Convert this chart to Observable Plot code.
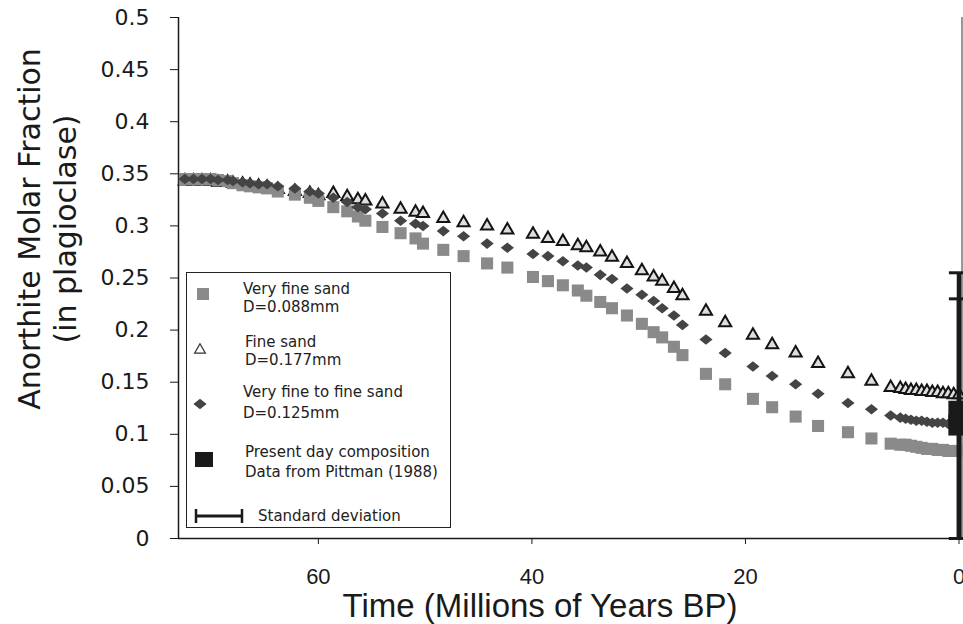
<!DOCTYPE html>
<html>
<head>
<meta charset="utf-8">
<script src="https://cdn.jsdelivr.net/npm/d3@7"></script>
<script src="https://cdn.jsdelivr.net/npm/@observablehq/plot@0.6"></script>
<style>
  body { margin: 0; background: #fff; }
  #chart { position: relative; width: 963px; height: 624px; overflow: hidden; background: #fff; }
</style>
</head>
<body>
<div id="chart"></div>
<script>
// Model time steps (millions of years before present)
const timeMa = [
  72.5, 71.7, 70.9, 70.1, 69.4, 68.5, 68.0, 67.1, 66.4, 65.6, 64.8, 63.8, 62.2,
  60.8, 60.0, 58.6, 57.3, 56.3, 55.6, 54.0, 52.3, 50.9, 50.2, 48.3, 46.4, 44.2,
  42.3, 39.9, 38.5, 37.1, 35.7, 34.9, 33.6, 32.5, 31.1, 29.7, 28.6, 27.8, 26.7,
  25.9, 23.7, 21.9, 19.3, 17.5, 15.3, 13.2, 10.4, 8.2, 6.4,
  5.5, 5.0, 4.5, 4.0, 3.5, 3.0, 2.5, 2.0, 1.5, 1.0, 0.5, 0.0
];

// Very fine sand, D = 0.088 mm
const veryFineSand = [
  0.345, 0.345, 0.345, 0.345, 0.344, 0.343, 0.341, 0.339, 0.338, 0.337, 0.336, 0.333, 0.330,
  0.327, 0.324, 0.318, 0.314, 0.309, 0.305, 0.299, 0.293, 0.288, 0.283, 0.277, 0.271, 0.264,
  0.260, 0.251, 0.247, 0.243, 0.238, 0.233, 0.227, 0.221, 0.214, 0.206, 0.198, 0.193, 0.184,
  0.176, 0.158, 0.148, 0.134, 0.126, 0.117, 0.108, 0.102, 0.096, 0.091,
  0.090, 0.090, 0.089, 0.088, 0.087, 0.086, 0.086, 0.085, 0.085, 0.084, 0.084, 0.084
];

// Fine sand, D = 0.177 mm
const fineSand = [
  0.343, 0.343, 0.343, 0.343, 0.342, 0.342, 0.341, 0.340, 0.339, 0.338, 0.337, 0.335, 0.333,
  0.331, 0.329, 0.331, 0.328, 0.325, 0.324, 0.321, 0.316, 0.313, 0.312, 0.307, 0.303, 0.300,
  0.296, 0.292, 0.288, 0.285, 0.281, 0.279, 0.275, 0.270, 0.264, 0.257, 0.251, 0.247, 0.240,
  0.233, 0.218, 0.207, 0.195, 0.186, 0.178, 0.168, 0.158, 0.151, 0.145,
  0.144, 0.143, 0.142, 0.142, 0.141, 0.141, 0.140, 0.140, 0.139, 0.139, 0.138, 0.138
];

// Very fine to fine sand, D = 0.125 mm
const veryFineToFineSand = [
  0.345, 0.345, 0.345, 0.345, 0.344, 0.344, 0.343, 0.342, 0.341, 0.340, 0.340, 0.338, 0.336,
  0.333, 0.331, 0.327, 0.323, 0.318, 0.316, 0.312, 0.305, 0.302, 0.300, 0.295, 0.290, 0.283,
  0.279, 0.273, 0.271, 0.266, 0.262, 0.260, 0.253, 0.249, 0.240, 0.234, 0.228, 0.221, 0.214,
  0.205, 0.191, 0.178, 0.165, 0.156, 0.148, 0.139, 0.130, 0.124, 0.118,
  0.116, 0.115, 0.114, 0.113, 0.113, 0.112, 0.111, 0.111, 0.111, 0.110, 0.110, 0.110
];

// Present-day composition (Pittman, 1988) with standard deviations
const presentTime = [0, 0];
const presentAn = [0.122, 0.109];
const presentSD = [0.133, 0.121];

const yTicks = [0, 0.05, 0.1, 0.15, 0.2, 0.25, 0.3, 0.35, 0.4, 0.45, 0.5];
const xTicks = [60, 40, 20, 0];

const series = (values) => timeMa.map((t, i) => ({ t, an: values[i] }));
const present = presentTime.map((t, i) => ({
  t, an: presentAn[i],
  lo: Math.max(0, presentAn[i] - presentSD[i]),
  hi: presentAn[i] + presentSD[i]
}));

// Diamond a little wider than tall
const wideDiamond = {
  draw(ctx, size) {
    const a = Math.sqrt(size / 1.6), b = 0.8 * a;
    ctx.moveTo(0, -b); ctx.lineTo(a, 0); ctx.lineTo(0, b); ctx.lineTo(-a, 0); ctx.closePath();
  }
};

const sansY = "'DejaVu Sans', Verdana, sans-serif";
const sansX = "'Liberation Sans', Arial, sans-serif";
const xMax = 73.1;
const capHalf = 0.9;

const chart = Plot.plot({
  width: 963,
  height: 624,
  marginLeft: 178,
  marginRight: 4.5,
  marginTop: 17,
  marginBottom: 86,
  style: { background: "white", color: "#1a1a1a" },
  x: { domain: [xMax, 0] },
  y: { domain: [0, 0.5] },
  marks: [
    Plot.axisY({
      ticks: yTicks, tickSize: 8, tickPadding: 21, tickFormat: d => String(d),
      label: null, fontSize: 22, fontFamily: sansY, stroke: "#1a1a1a"
    }),
    Plot.axisX({
      ticks: xTicks, tickSize: 6, tickPadding: 24, tickFormat: d => String(d),
      label: null, fontSize: 22, fontFamily: sansX, stroke: "#1a1a1a"
    }),
    Plot.ruleX([0], { dx: 3, stroke: "#333", strokeWidth: 1 }),
    Plot.ruleX([xMax], { stroke: "#1a1a1a", strokeWidth: 1.5 }),
    Plot.ruleY([0], { stroke: "#1a1a1a", strokeWidth: 1.5 }),
    // drawn bottom-up: fine sand, very fine sand, very fine to fine sand
    Plot.dot(series(fineSand), {
      x: "t", y: "an", symbol: "triangle", r: 4.5, fill: "#dedede", stroke: "#141414", strokeWidth: 2
    }),
    Plot.dot(series(veryFineSand), {
      x: "t", y: "an", symbol: "square", r: 6.8, fill: "#8a8a8a"
    }),
    Plot.dot(series(veryFineToFineSand), {
      x: "t", y: "an", symbol: wideDiamond, r: 4.7, fill: "#444"
    }),
    Plot.ruleX(present, { x: "t", y1: "lo", y2: "hi", stroke: "#1a1a1a", strokeWidth: 4.5 }),
    Plot.ruleY(present, { y: "hi", x1: d => d.t + capHalf, x2: d => d.t - capHalf, stroke: "#1a1a1a", strokeWidth: 3 }),
    Plot.ruleY(present, { y: "lo", x1: d => d.t + capHalf, x2: d => d.t - capHalf, stroke: "#1a1a1a", strokeWidth: 3 }),
    Plot.dot(present, { x: "t", y: "an", symbol: "square", r: 12, fill: "#1a1a1a" })
  ]
});

document.getElementById("chart").appendChild(chart);

// Axis titles and legend
const svg = d3.select(chart);

svg.append("text")
  .attr("transform", "translate(40,229) rotate(-90)")
  .attr("text-anchor", "middle")
  .attr("font-family", sansY).attr("font-size", 30).attr("fill", "#1a1a1a")
  .text("Anorthite Molar Fraction");
svg.append("text")
  .attr("transform", "translate(76,229) rotate(-90)")
  .attr("text-anchor", "middle")
  .attr("font-family", sansY).attr("font-size", 30).attr("fill", "#1a1a1a")
  .text("(in plagioclase)");
svg.append("text")
  .attr("x", 540).attr("y", 617)
  .attr("text-anchor", "middle")
  .attr("font-family", sansX).attr("font-size", 33).attr("fill", "#1a1a1a")
  .text("Time (Millions of Years BP)");

const lg = svg.append("g")
  .attr("font-family", sansY).attr("font-size", 15).attr("fill", "#222")
  .attr("text-anchor", "start");
lg.append("rect")
  .attr("x", 186.5).attr("y", 272.5).attr("width", 264).attr("height", 255)
  .attr("fill", "white").attr("stroke", "#222").attr("stroke-width", 1);

const sym = (type, size) => d3.symbol().type(type).size(size)();
lg.append("path").attr("d", sym(d3.symbolSquare, 144)).attr("transform", "translate(203,294)").attr("fill", "#8a8a8a");
lg.append("path").attr("d", sym(d3.symbolTriangle, 50)).attr("transform", "translate(200,350)").attr("fill", "white").attr("stroke", "#333").attr("stroke-width", 1.2);
lg.append("path").attr("d", sym(wideDiamond, 70)).attr("transform", "translate(200,404)").attr("fill", "#444");
lg.append("rect").attr("x", 195).attr("y", 452).attr("width", 18).attr("height", 15).attr("fill", "#1a1a1a");
lg.append("line").attr("x1", 196).attr("x2", 242).attr("y1", 516).attr("y2", 516).attr("stroke", "#1a1a1a").attr("stroke-width", 3);
lg.append("line").attr("x1", 196).attr("x2", 196).attr("y1", 509).attr("y2", 523).attr("stroke", "#1a1a1a").attr("stroke-width", 2.5);
lg.append("line").attr("x1", 242).attr("x2", 242).attr("y1", 509).attr("y2", 523).attr("stroke", "#1a1a1a").attr("stroke-width", 2.5);

const legendText = [
  ["Very fine sand", 243, 294], ["D=0.088mm", 243, 312],
  ["Fine sand", 245, 347], ["D=0.177mm", 245, 365],
  ["Very fine to fine sand", 243, 397], ["D=0.125mm", 243, 418],
  ["Present day composition", 245, 457], ["Data from Pittman (1988)", 245, 477],
  ["Standard deviation", 258, 521]
];
for (const [txt, x, y] of legendText) {
  lg.append("text").attr("x", x).attr("y", y).text(txt);
}
</script>
</body>
</html>
